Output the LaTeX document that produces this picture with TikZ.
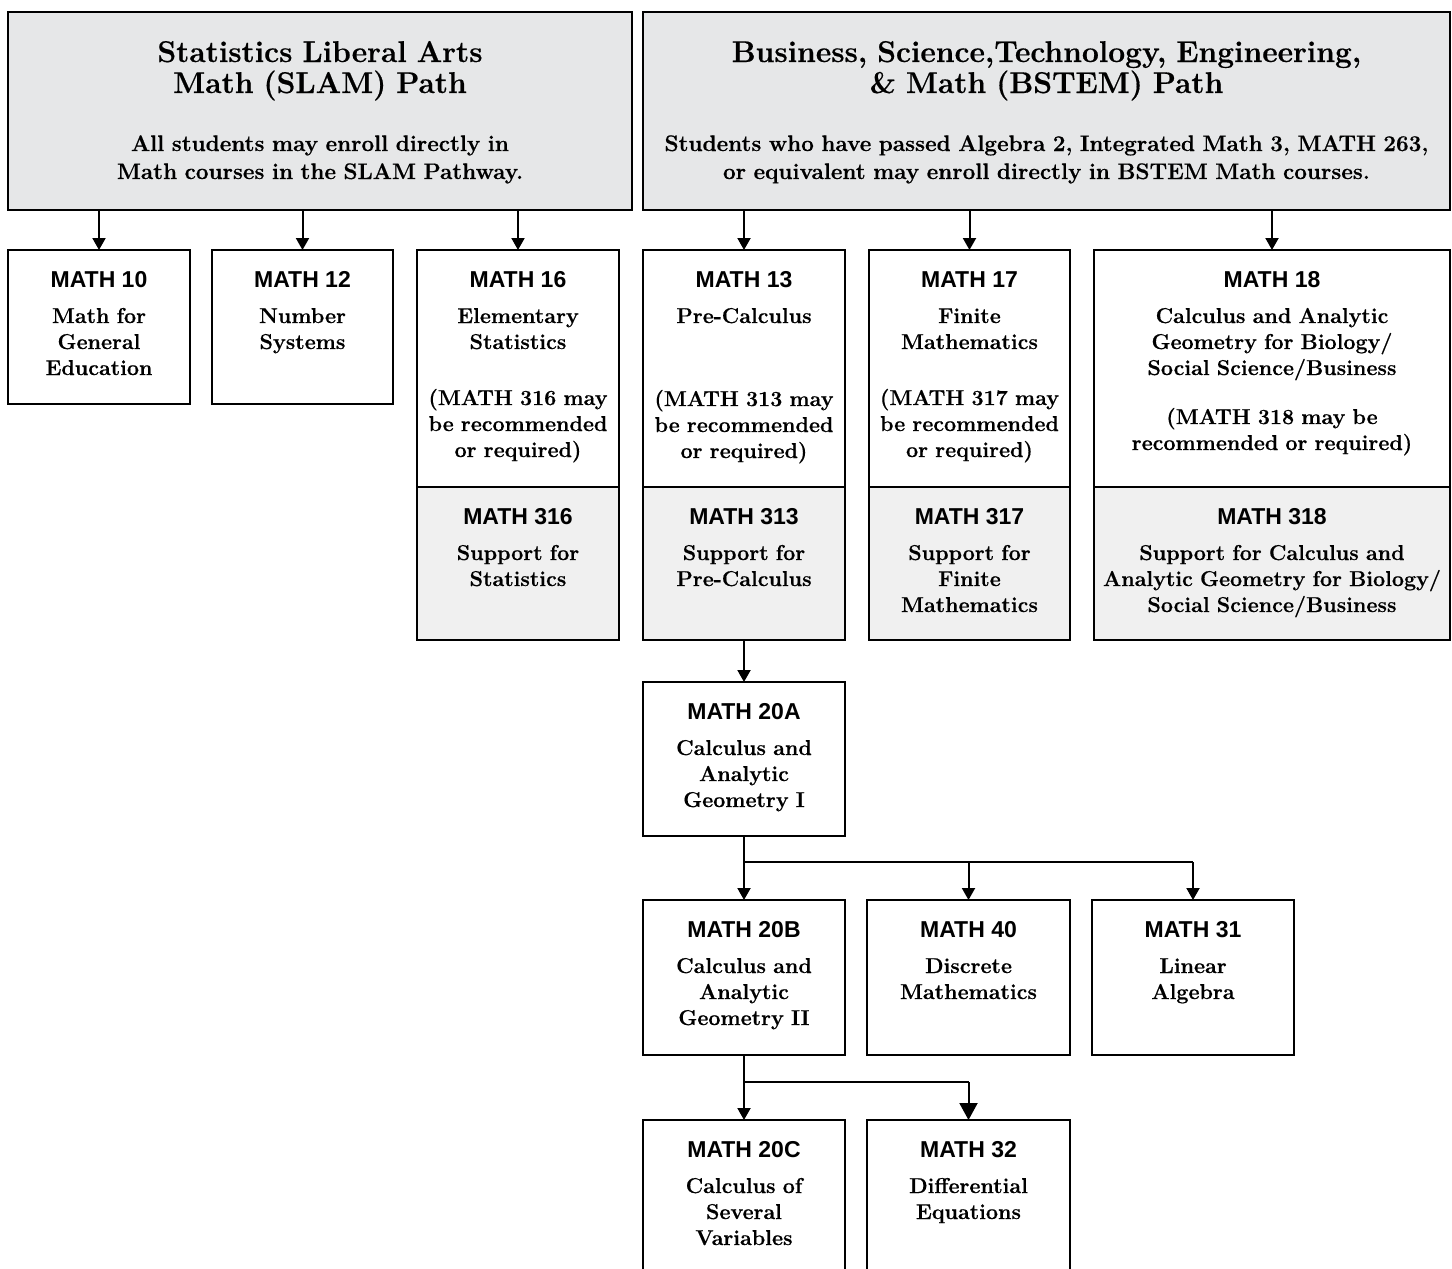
\documentclass[tikz,border=0pt]{standalone}
\usepackage{fontspec}
\setmainfont{Latin Modern Roman}[BoldFeatures={FakeBold=0.5}]
\newfontfamily\labfont{Liberation Sans}
\usetikzlibrary{arrows.meta}
\definecolor{hdrgray}{HTML}{E6E7E8}
\definecolor{supgray}{HTML}{F0F0F0}
\tikzset{
  boxst/.style={draw=black, line width=2pt, fill=white, inner sep=0pt, outer sep=0pt, anchor=north west},
  hdrst/.style={boxst, fill=hdrgray},
  supst/.style={boxst, fill=supgray},
  labst/.style={anchor=base, inner sep=0pt, font=\labfont\bfseries\fontsize{23}{26}\selectfont},
  bodyst/.style={anchor=base, inner sep=0pt, align=center, text width=#1, font=\bfseries\fontsize{21.5}{26}\selectfont},
  titlest/.style={anchor=base, inner sep=0pt, align=center, text width=#1, font=\bfseries\fontsize{30}{31}\selectfont},
  subst/.style={anchor=base, inner sep=0pt, align=center, text width=#1, font=\bfseries\fontsize{22.5}{28}\selectfont},
  arr/.style={line width=2pt, -{Triangle[length=12pt,width=13pt]}},
  bigarr/.style={line width=2pt, -{Triangle[length=17pt,width=18pt]}},
  ln/.style={line width=2pt}
}
\newcommand\mkbox[6]{\node[#6, minimum width={#4-#2}, minimum height={#5-#3}] (#1) at (#2,#3) {};}
\begin{document}
\begin{tikzpicture}[x=1pt,y=-1pt]
\useasboundingbox (0,0) rectangle (1452,1269);
% headers
\mkbox{slam}{8}{12}{632}{210}{hdrst}
\mkbox{bstem}{643}{12}{1450}{210}{hdrst}
\node[titlest=610pt] (slamt) at ([yshift=-50pt]slam.north) {Statistics Liberal Arts\\Math (SLAM) Path};
\node[subst=610pt] (slams) at ([yshift=-139pt]slam.north) {All students may enroll directly in\\Math courses in the SLAM Pathway.};
\node[titlest=795pt] (bstemt) at ([yshift=-50pt]bstem.north) {Business, Science,Technology, Engineering,\\\& Math (BSTEM) Path};
\node[subst=795pt] (bstems) at ([yshift=-139pt]bstem.north) {Students who have passed Algebra 2, Integrated Math 3, MATH 263,\\or equivalent may enroll directly in BSTEM Math courses.};
% row 1
\mkbox{m10}{8}{250}{190}{404}{boxst}
\mkbox{m12}{212}{250}{393}{404}{boxst}
\mkbox{m16}{417}{250}{619}{487}{boxst}
\mkbox{m316}{417}{487}{619}{640}{supst}
\mkbox{m13}{643}{250}{845}{487}{boxst}
\mkbox{m313}{643}{487}{845}{640}{supst}
\mkbox{m17}{869}{250}{1070}{487}{boxst}
\mkbox{m317}{869}{487}{1070}{640}{supst}
\mkbox{m18}{1094}{250}{1450}{487}{boxst}
\mkbox{m318}{1094}{487}{1450}{640}{supst}
% lower rows
\mkbox{m20a}{643}{682}{845}{836}{boxst}
\mkbox{m20b}{643}{900}{845}{1055}{boxst}
\mkbox{m40}{867}{900}{1070}{1055}{boxst}
\mkbox{m31}{1092}{900}{1294}{1055}{boxst}
\mkbox{m20c}{643}{1120}{845}{1300}{boxst}
\mkbox{m32}{867}{1120}{1070}{1300}{boxst}
% labels
\foreach \b/\t in {m10/MATH 10, m12/MATH 12, m16/MATH 16, m316/MATH 316, m13/MATH 13, m313/MATH 313, m17/MATH 17, m317/MATH 317, m18/MATH 18, m318/MATH 318, m20a/MATH 20A, m20b/MATH 20B, m40/MATH 40, m31/MATH 31, m20c/MATH 20C, m32/MATH 32}
  \node[labst] (\b l) at ([yshift=-37pt]\b.north) {\t};
% bodies
\node[bodyst=178pt] (m10b) at ([yshift=-73pt]m10.north) {Math for\\General\\Education};
\node[bodyst=178pt] (m12b) at ([yshift=-73pt]m12.north) {Number\\Systems};
\node[bodyst=198pt] (m16b) at ([yshift=-73pt]m16.north) {Elementary\\Statistics\\[30pt](MATH 316 may\\be recommended\\or required)};
\node[bodyst=198pt] (m316b) at ([yshift=-73pt]m316.north) {Support for\\Statistics};
\node[bodyst=198pt] (m13b) at ([yshift=-73pt]m13.north) {Pre-Calculus\\[57pt](MATH 313 may\\be recommended\\or required)};
\node[bodyst=198pt] (m313b) at ([yshift=-73pt]m313.north) {Support for\\Pre-Calculus};
\node[bodyst=198pt] (m17b) at ([yshift=-73pt]m17.north) {Finite\\Mathematics\\[30pt](MATH 317 may\\be recommended\\or required)};
\node[bodyst=198pt] (m317b) at ([yshift=-73pt]m317.north) {Support for\\Finite\\Mathematics};
\node[bodyst=354pt] (m18b) at ([yshift=-73pt]m18.north) {Calculus and Analytic\\Geometry for Biology/\\Social Science/Business\\[23pt](MATH 318 may be\\recommended or required)};
\node[bodyst=354pt] (m318b) at ([yshift=-73pt]m318.north) {Support for Calculus and\\Analytic Geometry for Biology/\\Social Science/Business};
\node[bodyst=198pt] (m20ab) at ([yshift=-73pt]m20a.north) {Calculus and\\Analytic\\Geometry I};
\node[bodyst=198pt] (m20bb) at ([yshift=-73pt]m20b.north) {Calculus and\\Analytic\\Geometry II};
\node[bodyst=198pt] (m40b) at ([yshift=-73pt]m40.north) {Discrete\\Mathematics};
\node[bodyst=198pt] (m31b) at ([yshift=-73pt]m31.north) {Linear\\Algebra};
\node[bodyst=198pt] (m20cb) at ([yshift=-73pt]m20c.north) {Calculus of\\Several\\Variables};
\node[bodyst=198pt] (m32b) at ([yshift=-73pt]m32.north) {Differential\\Equations};
% connectors
\foreach \b in {m10,m12,m16} \draw[arr] (slam.south -| \b.north) -- (\b.north);
\foreach \b in {m13,m17,m18} \draw[arr] (bstem.south -| \b.north) -- (\b.north);
\draw[arr] (m313.south) -- (m20a.north);
\coordinate (br1) at (743,862);
\coordinate (br2) at (743,1082);
\draw[arr] (m20a.south) -- (m20b.north);
\draw[ln] (m20a.south |- br1) -| (m31.north |- br1);
\draw[arr] (m40.north |- br1) -- (m40.north);
\draw[arr] (m31.north |- br1) -- (m31.north);
\draw[arr] (m20b.south) -- (m20c.north);
\draw[ln] (m20b.south |- br2) -| (m32.north |- br2);
\draw[bigarr] (m32.north |- br2) -- (m32.north);
\end{tikzpicture}
\end{document}
